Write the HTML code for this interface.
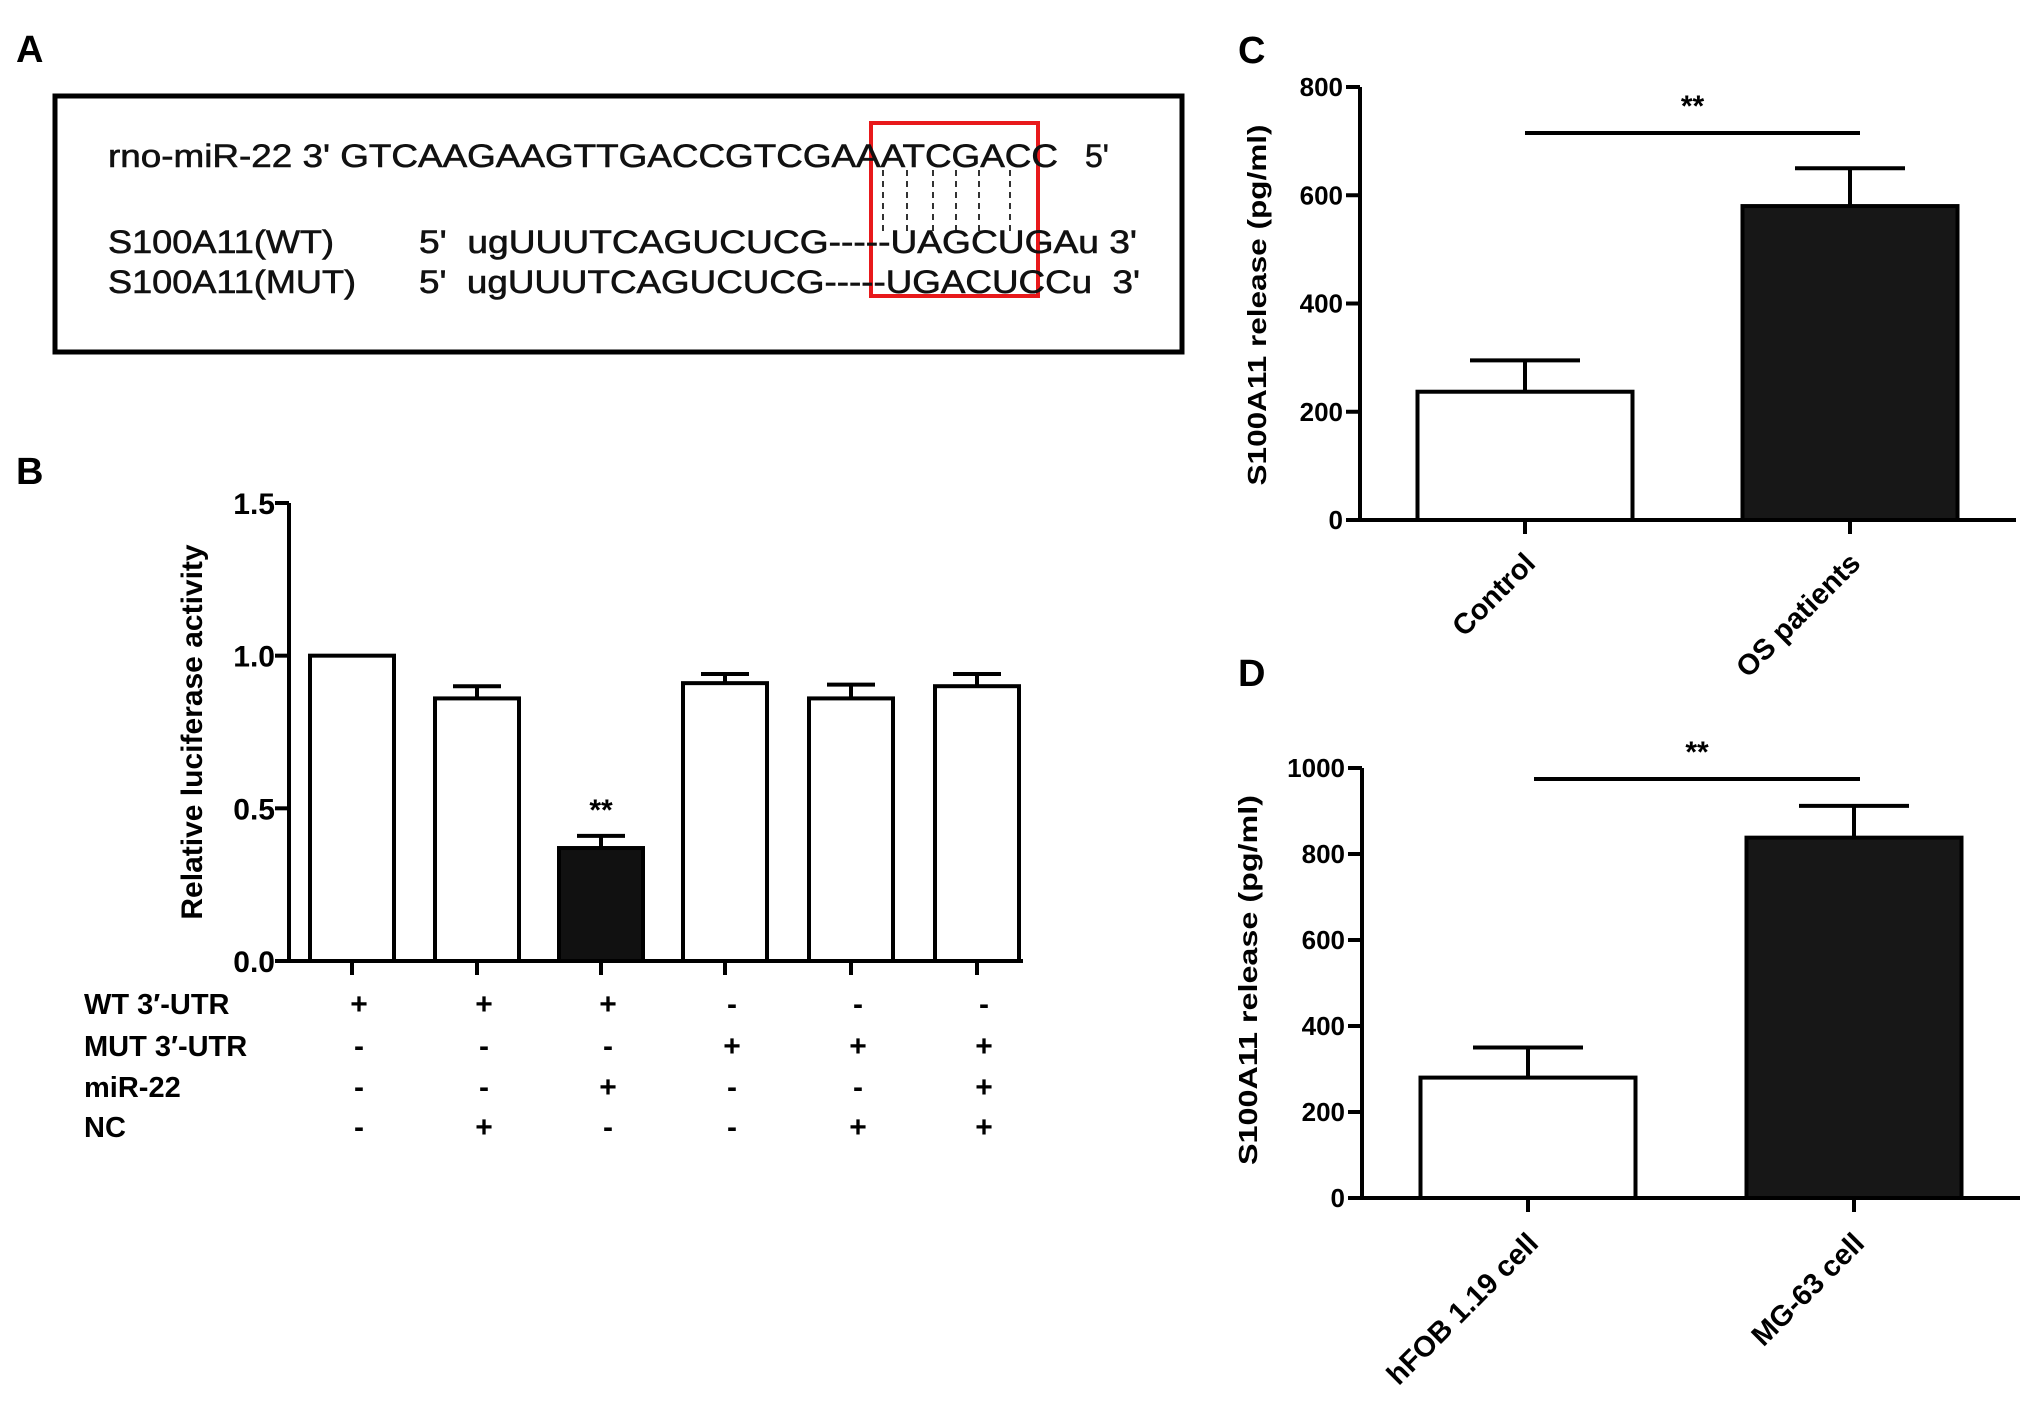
<!DOCTYPE html>
<html><head><meta charset="utf-8"><style>
html,body{margin:0;padding:0;background:#fff;}
svg{display:block;font-family:"Liberation Sans",Arial,sans-serif;}
</style></head><body>
<svg id="fig" width="2031" height="1414" viewBox="0 0 2031 1414">
<g>
<text x="16" y="62" font-size="38" font-weight="bold">A</text>
<rect x="55" y="96" width="1127" height="256" fill="none" stroke="#000" stroke-width="5"/>
<rect x="871" y="123" width="167" height="173" fill="none" stroke="#e8191b" stroke-width="4"/>
<g stroke="#000" stroke-width="1.6" stroke-dasharray="6,5">
<line x1="883" y1="170" x2="883" y2="232"/><line x1="907" y1="170" x2="907" y2="232"/><line x1="933" y1="170" x2="933" y2="232"/><line x1="956" y1="170" x2="956" y2="232"/><line x1="979" y1="170" x2="979" y2="232"/><line x1="1010" y1="170" x2="1010" y2="232"/>
</g>
<g font-size="32" fill="#111" stroke="#111" stroke-width="0.6">
<text x="108" y="167" textLength="950" lengthAdjust="spacingAndGlyphs">rno-miR-22 3' GTCAAGAAGTTGACCGTCGAAATCGACC</text>
<text x="1085" y="167">5'</text>
<text x="108" y="253" textLength="226" lengthAdjust="spacingAndGlyphs">S100A11(WT)</text>
<text x="419" y="253" textLength="718" lengthAdjust="spacingAndGlyphs" xml:space="preserve">5'  ugUUUTCAGUCUCG-----UAGCUGAu 3'</text>
<text x="108" y="293" textLength="248" lengthAdjust="spacingAndGlyphs">S100A11(MUT)</text>
<text x="419" y="293" textLength="721" lengthAdjust="spacingAndGlyphs" xml:space="preserve">5'  ugUUUTCAGUCUCG-----UGACUCCu  3'</text>
</g>
</g>
<g id="pb"></g>
<g id="pc"></g>
<g id="pd"></g>
</svg>
<script>
// Panel B data
const bValues = [1.0, 0.86, 0.37, 0.91, 0.86, 0.90];
const bErrors = [0.0, 0.04, 0.04, 0.03, 0.045, 0.04];
const bFills = ['#fff','#fff','#111','#fff','#fff','#fff'];
const bTicks = [0, 0.5, 1.0, 1.5];
const bTickLabels = ['0.0','0.5','1.0','1.5'];
const bRowLabels = ['WT  3\u2032-UTR','MUT  3\u2032-UTR','miR-22','NC'];
const bRows = [['+','+','+','-','-','-'],['-','-','-','+','+','+'],['-','-','+','-','-','+'],['-','+','-','-','+','+']];
// Panel C data
const cCategories = ['Control','OS patients'];
const cValues = [237, 580];
const cErrors = [58, 70];
const cTicks = [0,200,400,600,800];
// Panel D data
const dCategories = ['hFOB 1.19 cell','MG-63 cell'];
const dValues = [280, 838];
const dErrors = [70, 74];
const dTicks = [0,200,400,600,800,1000];

const NS='http://www.w3.org/2000/svg';
function mk(parent, tag, attrs, text){
  const e=document.createElementNS(NS,tag);
  for(const k in attrs) e.setAttribute(k,attrs[k]);
  if(text!==undefined) e.textContent=text;
  parent.appendChild(e); return e;
}

// ---- Panel B ----
(function(){
  const g=document.getElementById('pb');
  const x0=289, y0=961, yTop=503, vmax=1.5, xEnd=1023;
  const ys=v=>y0-(v/vmax)*(y0-yTop);
  const centers=[352,477,601,725,851,977]; const bw=84;
  let t=mk(g,'text',{x:16,y:484,'font-size':38,'font-weight':'bold'},'B');
  
  
  bValues.forEach((v,i)=>{
    const cx=centers[i];
    if(bErrors[i]>0){
      const eb=mk(g,'path',{d:`M${cx} ${ys(v)} V${ys(v+bErrors[i])} M${cx-24} ${ys(v+bErrors[i])} H${cx+24}`,stroke:'#000','stroke-width':4,fill:'none'});
      
      
    }
    const r=mk(g,'rect',{x:cx-bw/2,y:ys(v),width:bw,height:y0-ys(v),fill:bFills[i],stroke:'#000','stroke-width':4});
    
    
    const tk=mk(g,'line',{x1:cx,y1:y0,x2:cx,y2:y0+14,stroke:'#000','stroke-width':4});
    
    
  });
  const ax=mk(g,'path',{d:`M${x0} ${yTop} V${y0} H${xEnd}`,stroke:'#000','stroke-width':4,fill:'none'});
  
  
  bTicks.forEach((v,i)=>{
    const l=mk(g,'line',{x1:x0-14,y1:ys(v),x2:x0,y2:ys(v),stroke:'#000','stroke-width':4});
    
    
    const tt=mk(g,'text',{x:x0-14,y:ys(v)+11,'font-size':30,'font-weight':'bold','text-anchor':'end'},bTickLabels[i]);
    
    
  });
  const yt=mk(g,'text',{x:0,y:0,'font-size':30,'font-weight':'bold','text-anchor':'middle',transform:'translate(202,732) rotate(-90)'},'Relative luciferase activity');
  
  
  const sig=mk(g,'text',{x:centers[2],y:ys(bValues[2]+bErrors[2])-16,'font-size':30,'font-weight':'bold','text-anchor':'middle'},'**');
  
  
  const rowY=[1014,1056,1097,1137];
  bRowLabels.forEach((lab,r)=>{
    const tl=mk(g,'text',{x:84,y:rowY[r],'font-size':29,'font-weight':'bold','xml:space':'preserve'},lab);
    
    
    bRows[r].forEach((s,i)=>{
      const ts=mk(g,'text',{x:centers[i]+7,y:rowY[r],'font-size':30,'font-weight':'bold','text-anchor':'middle'},s);
      
      
    });
  });
})();

// ---- Panels C & D ----
function twoBar(id,label,labelY,x0,y0,yTop,vmax,xEnd,ticks,vals,errs,cats,centers,bw,sigY,sigX1,sigX2,titleX,titleY,titleLen,catY){
  const g=document.getElementById(id);
  const ys=v=>y0-(v/vmax)*(y0-yTop);
  const pl=mk(g,'text',{x:1238,y:labelY,'font-size':38,'font-weight':'bold'},label);
  
  
  vals.forEach((v,i)=>{
    const cx=centers[i];
    const eb=mk(g,'path',{d:`M${cx} ${ys(v)} V${ys(v+errs[i])} M${cx-55} ${ys(v+errs[i])} H${cx+55}`,stroke:'#000','stroke-width':4,fill:'none'});
    
    
    const r=mk(g,'rect',{x:cx-bw/2,y:ys(v),width:bw,height:y0-ys(v),fill:i?'#171717':'#fff',stroke:'#000','stroke-width':4});
    
    
    const tk=mk(g,'line',{x1:cx,y1:y0,x2:cx,y2:y0+14,stroke:'#000','stroke-width':4});
    
    
    const ct=mk(g,'text',{x:0,y:0,'font-size':29,'font-weight':'bold','text-anchor':'end',transform:`translate(${cx+12},${catY}) rotate(-45)`},cats[i]);
    
    
  });
  const ax=mk(g,'path',{d:`M${x0} ${yTop} V${y0} H${xEnd}`,stroke:'#000','stroke-width':4,fill:'none'});
  
  
  ticks.forEach(v=>{
    const l=mk(g,'line',{x1:x0-14,y1:ys(v),x2:x0,y2:ys(v),stroke:'#000','stroke-width':4});
    
    
    const tt=mk(g,'text',{x:x0-17,y:ys(v)+9,'font-size':26,'font-weight':'bold','text-anchor':'end'},String(v));
    
    
  });
  const yt=mk(g,'text',{x:0,y:0,'font-size':26,'font-weight':'bold','text-anchor':'middle',textLength:titleLen,lengthAdjust:'spacingAndGlyphs',transform:`translate(${titleX},${titleY}) rotate(-90)`},'S100A11 release (pg/ml)');
  
  
  const sl=mk(g,'line',{x1:sigX1,y1:sigY,x2:sigX2,y2:sigY,stroke:'#000','stroke-width':4});
  
  
  const st=mk(g,'text',{x:(sigX1+sigX2)/2,y:sigY-17,'font-size':30,'font-weight':'bold','text-anchor':'middle'},'**');
  
  
}
twoBar('pc','C',63,1360,520,87,800,2016,cTicks,cValues,cErrors,cCategories,[1525,1850],215,133,1525,1860,1266,305,361,565);
twoBar('pd','D',686,1362,1198,768,1000,2020,dTicks,dValues,dErrors,dCategories,[1528,1854],215,779,1534,1860,1257,980,370,1245);
</script>
</body></html>
